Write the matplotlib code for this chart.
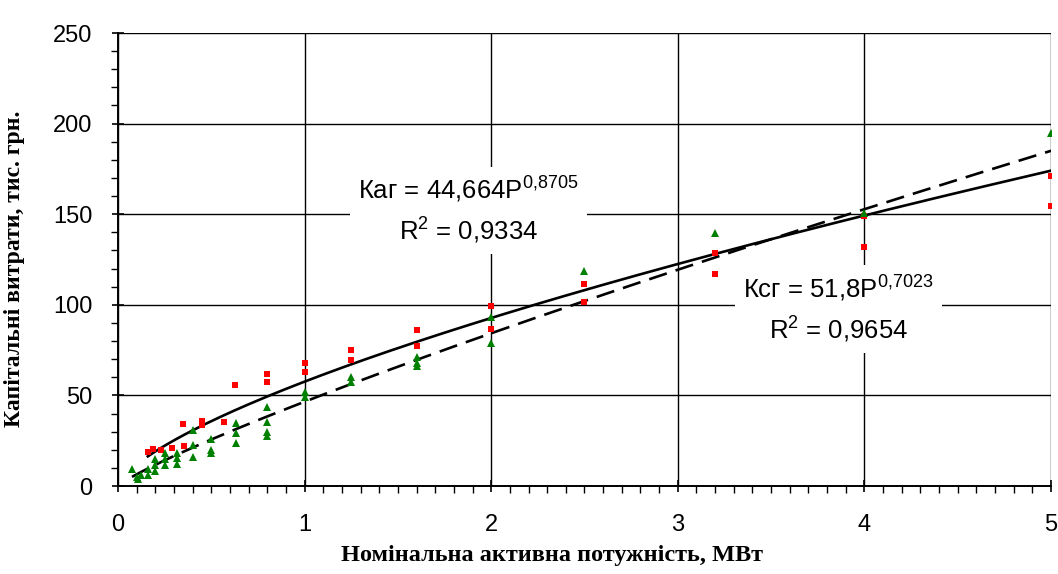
import numpy as np
import matplotlib.pyplot as plt
from matplotlib.ticker import MultipleLocator

plt.rcParams['font.family'] = ['Liberation Sans', 'DejaVu Sans']
plt.rcParams['mathtext.fontset'] = 'custom'
plt.rcParams['mathtext.rm'] = 'Liberation Sans'
plt.rcParams['mathtext.it'] = 'Liberation Sans:italic'

# -----------------------------------
# Data
# -----------------------------------
# red squares
red_p = [0.16, 0.19, 0.23, 0.29, 0.35, 0.355, 0.45, 0.45, 0.57, 0.625,
         0.8, 0.8, 1.0, 1.0, 1.25, 1.25, 1.6, 1.6, 2.0, 2.0,
         2.5, 2.5, 3.2, 3.2, 4.0, 4.0, 5.0, 5.0]
red_k = [18.9, 20.2, 19.9, 20.8, 34.0, 22.3, 36.0, 33.7, 35.5, 56.0,
         61.6, 57.6, 67.7, 63.1, 75.0, 69.5, 86.0, 77.3, 99.3, 86.6,
         111.3, 101.7, 128.8, 116.8, 149.0, 131.7, 170.9, 154.5]

# green triangles
green_p = [0.075, 0.1, 0.11, 0.125, 0.16, 0.16, 0.2, 0.2, 0.2, 0.25,
           0.25, 0.25, 0.315, 0.315, 0.315, 0.4, 0.4, 0.4, 0.5, 0.5,
           0.5, 0.63, 0.63, 0.63, 0.8, 0.8, 0.8, 0.8, 1.0, 1.0,
           1.25, 1.25, 1.6, 1.6, 1.6, 2.0, 2.0, 2.5, 3.2, 4.0, 5.0]
green_k = [9.4, 4.8, 3.7, 6.1, 9.2, 6.1, 14.7, 11.6, 8.5, 18.4,
           14.7, 11.6, 18.0, 15.3, 12.1, 30.9, 22.6, 16.2, 26.0, 20.0,
           18.0, 34.6, 29.1, 23.6, 43.4, 35.5, 30.0, 27.6, 52.0, 49.3,
           60.0, 57.6, 71.0, 67.7, 66.2, 93.0, 78.8, 118.8, 139.4, 150.8, 194.6]

# power trend curves as they are drawn on the chart (a * P^b)
solid_a, solid_b = 57.6, 0.687
dash_a, dash_b = 46.5, 0.858

label_ag = "Каг = 44,664P$^{0{,}8705}$\nR$^{2}$ = 0,9334"
label_sg = "Ксг = 51,8P$^{0{,}7023}$\nR$^{2}$ = 0,9654"

# -----------------------------------
# Plot
# -----------------------------------
fig = plt.figure(figsize=(10.58, 5.74), dpi=100)
ax = fig.add_axes([0.1115, 0.1533, 0.8819, 0.7892])

ax.set_xlim(0, 5)
ax.set_ylim(0, 250)
ax.xaxis.set_major_locator(MultipleLocator(1))
ax.xaxis.set_minor_locator(MultipleLocator(0.1))
ax.yaxis.set_major_locator(MultipleLocator(50))
ax.yaxis.set_minor_locator(MultipleLocator(10))

ax.grid(True, which='major', color='black', linewidth=1.0)
ax.set_axisbelow(True)
for side in ['top', 'right']:
    ax.spines[side].set_visible(False)
for side in ['left', 'bottom']:
    ax.spines[side].set_linewidth(1.4)

ax.tick_params(which='major', direction='inout', length=9, width=1.2,
               labelsize=17)
ax.tick_params(axis='x', which='major', pad=16)
ax.tick_params(axis='y', which='major', pad=14)
ax.tick_params(which='minor', direction='out', length=5, width=1.0)

# trend curves
ps = np.linspace(min(red_p), 5, 200)
ax.plot(ps, solid_a * ps ** solid_b, color='black', linewidth=1.9)
pg = np.linspace(min(green_p), 5, 200)
ax.plot(pg, dash_a * pg ** dash_b, color='black', linewidth=1.9,
        dashes=(7, 3.5))

# points
ax.plot(red_p, red_k, linestyle='none', marker='s', markersize=4.3,
        color='#FF0000', markeredgewidth=0)
ax.plot(green_p, green_k, linestyle='none', marker='^', markersize=6,
        color='#008000', markeredgewidth=0)

box = dict(facecolor='white', edgecolor='none', pad=6)
ax.text(1.88, 152, label_ag, ha='center', va='center', fontsize=18.5,
        linespacing=1.45, bbox=box, zorder=5)
ax.text(3.86, 97.5, label_sg, ha='center', va='center', fontsize=18.5,
        linespacing=1.45, bbox=box, zorder=5)

ax.set_xlabel("Номінальна активна потужність, МВт", family='Liberation Serif',
              fontweight='bold', fontsize=17.5)
ax.xaxis.set_label_coords(0.465, -0.13)
ax.set_ylabel("Капітальні витрати, тис. грн.", family='Liberation Serif',
              fontweight='bold', fontsize=17)
ax.yaxis.set_label_coords(-0.1, 0.48)

plt.savefig("out.png", dpi=100)
